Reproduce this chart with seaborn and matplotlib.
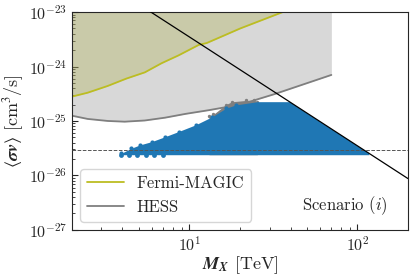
import numpy as np
import seaborn as sns
import matplotlib
matplotlib.use("Agg")
import matplotlib.pyplot as plt

# limits
fermi_m = [2.0, 2.48, 3.27, 4.22, 5.43, 6.84, 8.62, 11.4, 12.7, 20.1, 36.0]
fermi_sv = [2.8e-25, 3.3e-25, 4.4e-25, 6.0e-25, 7.8e-25, 1.15e-24, 1.6e-24, 2.5e-24, 2.7e-24, 5.0e-24, 1.0e-23]

hess_m = [2.0, 2.48, 3.27, 4.12, 5.43, 7.18, 9.5, 13.1, 20.1, 32.0, 70.0]
hess_sv = [1.25e-25, 1.09e-25, 1.0e-25, 9.7e-26, 1.02e-25, 1.15e-25, 1.35e-25, 1.58e-25, 2.0e-25, 3.1e-25, 7.0e-25]

# unitarity-like bound
bound_m = [2.0, 5.9, 12.7, 40.0, 100.0, 200.0]
bound_sv = [8.75e-23, 1.0e-23, 2.17e-24, 2.19e-25, 3.5e-26, 8.75e-27]

thermal_sv = 2.9e-26

# scan: upper edge of the allowed points
scan_m = [3.94, 4.52, 5.07, 5.96, 7.17, 8.63, 10.9, 13.7, 16.5, 18.9, 25.4, 39.5, 50.0, 60.0, 80.0, 100.0, 117.0]
scan_top = [2.55e-26, 3.16e-26, 3.63e-26, 4.17e-26, 5.15e-26, 6.4e-26, 8.5e-26, 1.2e-25, 1.71e-25, 1.97e-25,
            2.26e-25, 2.26e-25, 1.4e-25, 9.7e-26, 5.5e-26, 3.5e-26, 2.6e-26]
scan_bottom = 2.4e-26
# points of the other scan poking out above
grey_m = [13.1, 13.9, 16.5, 17.9, 21.7, 24.3, 25.4]
grey_top = [1.25e-25, 1.32e-25, 2.0e-25, 2.25e-25, 2.38e-25, 2.38e-25, 2.24e-25]
# stray points under the band
low_m = [3.94, 4.4, 4.9, 5.5, 6.2, 7.0]
low_sv = [2.4e-26, 2.35e-26, 2.35e-26, 2.35e-26, 2.35e-26, 2.35e-26]

sns.set_style("ticks")
plt.rcParams["font.family"] = "serif"
plt.rcParams["font.serif"] = ["cmr10", "DejaVu Serif"]
plt.rcParams["mathtext.fontset"] = "cm"
plt.rcParams["axes.formatter.use_mathtext"] = True
plt.rcParams["axes.unicode_minus"] = True

fig = plt.figure(figsize=(4.18, 2.80), dpi=100)
ax = fig.add_axes([0.172, 0.179, 0.804, 0.778])
top = 1e-23

ax.fill_between(fermi_m, fermi_sv, top, color="tab:olive", alpha=0.3, lw=0)
ax.fill_between(hess_m, hess_sv, top, color="tab:gray", alpha=0.3, lw=0)
sns.lineplot(x=fermi_m, y=fermi_sv, color="tab:olive", lw=1.3, label="Fermi-MAGIC", ax=ax)
sns.lineplot(x=hess_m, y=hess_sv, color="tab:gray", lw=1.3, label="HESS", ax=ax)

ax.fill_between(grey_m, scan_bottom, grey_top, color="tab:gray", lw=0, zorder=3)
sns.scatterplot(x=grey_m, y=grey_top, color="tab:gray", s=6, linewidth=0, ax=ax, zorder=3)
ax.fill_between(scan_m, scan_bottom, scan_top, color="tab:blue", lw=0, zorder=4)
sns.scatterplot(x=scan_m[:10], y=scan_top[:10], color="tab:blue", s=9, linewidth=0, ax=ax, zorder=4)
sns.scatterplot(x=low_m, y=low_sv, color="tab:blue", s=12, linewidth=0, ax=ax, zorder=4)

ax.axhline(thermal_sv, color="#555555", ls="--", lw=0.7, zorder=5)
sns.lineplot(x=bound_m, y=bound_sv, color="black", lw=0.9, ax=ax, zorder=6)

ax.set_xscale("log")
ax.set_yscale("log")
ax.set_xlim(2, 200)
ax.set_ylim(1e-27, 1e-23)
ax.tick_params(which="both", direction="in", labelsize=11.5)
ax.tick_params(which="major", length=4)
ax.tick_params(which="minor", length=2)
ax.set_xlabel(r"$\mathbfit{M_X}$ [TeV]", fontsize=13, labelpad=1, math_fontfamily="stix")
ax.set_ylabel(r"$\langle \mathbfit{\sigma v} \rangle$ [cm$^3$/s]", fontsize=13, labelpad=2,
              math_fontfamily="stix")
ax.text(0.94, 0.06, r"Scenario $(i)$", transform=ax.transAxes, ha="right", va="bottom", fontsize=12)
ax.legend(loc="lower left", fontsize=12, handlelength=2.2)

fig.savefig("out.png", dpi=100)
